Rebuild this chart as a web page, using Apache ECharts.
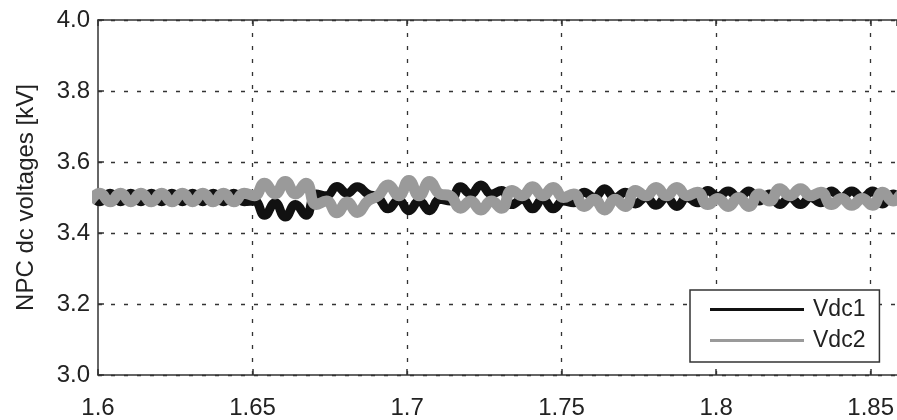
<!DOCTYPE html>
<html>
<head>
<meta charset="utf-8">
<script src="https://cdn.jsdelivr.net/npm/echarts@6/dist/echarts.min.js"></script>
<style>
html,body{margin:0;padding:0;background:#fff;}
#chart{width:897px;height:420px;}
</style>
</head>
<body>
<div id="chart"></div>
<script>
// sample times (s), roughly at each half-period of the ripple
var time = [1.5973,
1.6006,1.6039,1.6073,1.6106,1.6139,1.6173,1.6206,1.6239,1.6273,1.6306,
1.6339,1.6373,1.6406,1.6439,1.6473,1.6506,1.6539,1.6573,1.6606,1.6639,
1.6673,1.6706,1.6739,1.6773,1.6806,1.6839,1.6873,1.6906,1.6939,1.6973,
1.7006,1.7039,1.7073,1.7106,1.7139,1.7173,1.7206,1.7239,1.7273,1.7306,
1.7339,1.7373,1.7406,1.7439,1.7473,1.7506,1.7539,1.7573,1.7606,1.7639,
1.7673,1.7706,1.7739,1.7773,1.7806,1.7839,1.7873,1.7906,1.7939,1.7973,
1.8006,1.8039,1.8073,1.8106,1.8139,1.8173,1.8206,1.8239,1.8273,1.8306,
1.8339,1.8373,1.8406,1.8439,1.8473,1.8506,1.8539,1.8573,1.8606,1.8639,1.8673];

// NPC dc voltages [kV]
var vdc1 = [3.512,
3.488,3.512,3.488,3.512,3.488,3.512,3.488,3.512,3.488,3.512,
3.488,3.512,3.488,3.512,3.488,3.490,3.450,3.485,3.445,3.480,
3.450,3.510,3.505,3.531,3.512,3.530,3.510,3.500,3.468,3.493,
3.463,3.490,3.463,3.495,3.490,3.530,3.510,3.535,3.510,3.520,
3.480,3.495,3.468,3.495,3.468,3.490,3.485,3.515,3.500,3.525,
3.500,3.515,3.482,3.500,3.478,3.500,3.475,3.500,3.485,3.520,
3.503,3.518,3.500,3.518,3.490,3.510,3.480,3.500,3.480,3.500,
3.485,3.518,3.500,3.518,3.500,3.518,3.482,3.510,3.490,3.512,3.488];

var vdc2 = [3.488,
3.512,3.488,3.512,3.488,3.512,3.488,3.512,3.488,3.512,3.488,
3.512,3.488,3.512,3.488,3.512,3.505,3.540,3.510,3.545,3.510,
3.540,3.480,3.490,3.457,3.487,3.458,3.490,3.505,3.535,3.505,
3.548,3.505,3.545,3.510,3.505,3.470,3.490,3.465,3.490,3.470,
3.520,3.505,3.530,3.505,3.528,3.500,3.510,3.475,3.495,3.465,
3.495,3.475,3.520,3.505,3.528,3.505,3.528,3.505,3.515,3.480,
3.497,3.475,3.500,3.475,3.510,3.490,3.525,3.505,3.525,3.505,
3.515,3.480,3.497,3.478,3.497,3.478,3.515,3.490,3.510,3.488,3.512];

var seriesNames = ['Vdc1', 'Vdc2'];
var xTicks = [1.6, 1.65, 1.7, 1.75, 1.8, 1.85];
var yTicks = [3.0, 3.2, 3.4, 3.6, 3.8, 4.0];

function pairs(t, v) {
  var out = [];
  for (var i = 0; i < t.length; i++) out.push([t[i], v[i]]);
  return out;
}

var chart = echarts.init(document.getElementById('chart'), null, {renderer: 'canvas'});
var font = 'Liberation Sans, Arial, Helvetica, sans-serif';
var dashStyle = {color: '#333', width: 1.3, type: [4, 9]};
var X_MIN = 1.6, X_MAX = 1.8584;

var vGrid = [];
for (var i = 1; i < xTicks.length; i++) vGrid.push({xAxis: xTicks[i]});

chart.setOption({
  animation: false,
  backgroundColor: '#fff',
  grid: {left: 98, top: 20, right: 0, bottom: 43, show: false},
  xAxis: [{
    type: 'value', min: X_MIN, max: X_MAX, interval: 0.05,
    axisLine: {show: true, onZero: false, lineStyle: {color: '#333', width: 1.5}},
    axisTick: {show: true, inside: true, length: 6, lineStyle: {color: '#333', width: 1.5}},
    axisLabel: {show: true, showMaxLabel: false, margin: 21, color: '#222',
                fontFamily: font, fontSize: 24,
                formatter: function (v) {
                  for (var i = 0; i < xTicks.length; i++) {
                    if (Math.abs(xTicks[i] - v) < 1e-6) return String(xTicks[i]);
                  }
                  return '';
                }},
    splitLine: {show: false}
  }, {
    type: 'value', position: 'top', min: X_MIN, max: X_MAX, interval: 0.05,
    axisLine: {show: true, onZero: false, lineStyle: {color: '#333', width: 1.5}},
    axisTick: {show: true, inside: true, length: 6, lineStyle: {color: '#333', width: 1.5}},
    axisLabel: {show: false},
    splitLine: {show: false}
  }],
  yAxis: {
    type: 'value', min: 3.0, max: 4.0, interval: 0.2,
    name: 'NPC dc voltages [kV]', nameLocation: 'middle', nameGap: 60,
    nameTextStyle: {color: '#222', fontFamily: font, fontSize: 24},
    axisLine: {show: true, lineStyle: {color: '#333', width: 1.5}},
    axisTick: {show: true, inside: true, length: 6, lineStyle: {color: '#333', width: 1.5}},
    axisLabel: {margin: 8, color: '#222', fontFamily: font, fontSize: 24,
                formatter: function (v) {
                  for (var i = 0; i < yTicks.length; i++) {
                    if (Math.abs(yTicks[i] - v) < 1e-6) return yTicks[i].toFixed(1);
                  }
                  return '';
                }},
    splitLine: {show: true, lineStyle: dashStyle}
  },
  legend: {
    orient: 'vertical', left: 690, top: 290,
    padding: [8, 14, 10, 20], itemGap: 8,
    itemWidth: 94, itemHeight: 3, icon: 'rect',
    backgroundColor: '#fff', borderColor: '#333', borderWidth: 1.5,
    textStyle: {color: '#222', fontFamily: font, fontSize: 23, padding: [0, 0, 0, 4]},
    data: seriesNames
  },
  series: [
    {name: 'grid', type: 'line', data: [], z: 1, silent: true,
     markLine: {silent: true, z: 1, symbol: 'none', label: {show: false},
                lineStyle: dashStyle, data: vGrid}},
    {name: seriesNames[0], type: 'line', data: pairs(time, vdc1), showSymbol: false,
     smooth: 0.5, lineStyle: {color: '#111', width: 9}, itemStyle: {color: '#111'}, z: 2},
    {name: seriesNames[1], type: 'line', data: pairs(time, vdc2), showSymbol: false,
     smooth: 0.5, lineStyle: {color: '#9a9a9a', width: 11}, itemStyle: {color: '#9a9a9a'}, z: 3}
  ]
});
</script>
</body>
</html>
